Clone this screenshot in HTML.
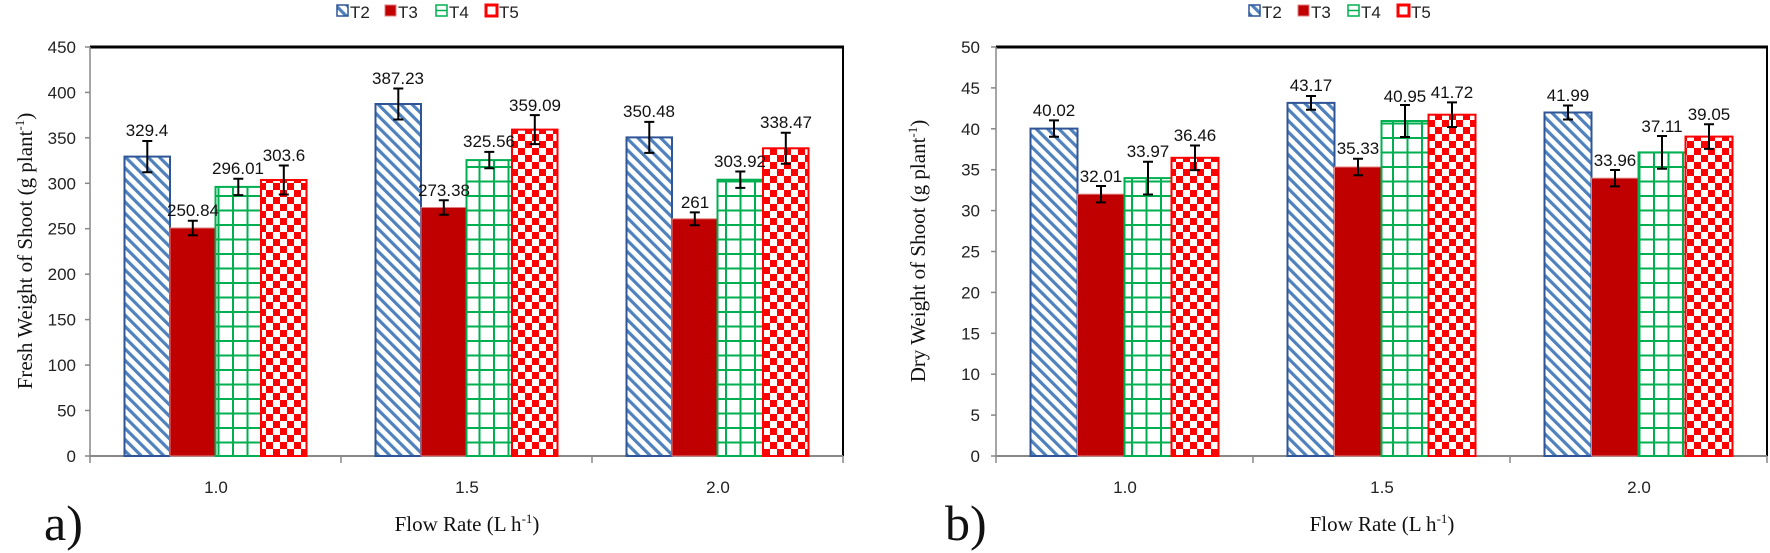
<!DOCTYPE html>
<html><head><meta charset="utf-8"><style>
html,body{margin:0;padding:0;background:#fff;}
svg{display:block;}
.t{font-family:"Liberation Sans",sans-serif;font-size:17px;fill:#222;}
.d{font-family:"Liberation Sans",sans-serif;font-size:17px;fill:#111;text-anchor:middle;}
.s{font-family:"Liberation Serif",serif;fill:#111;}
</style></head><body>
<svg width="1770" height="553" viewBox="0 0 1770 553" xmlns="http://www.w3.org/2000/svg">
<defs>
<pattern id="st" width="8" height="8" patternUnits="userSpaceOnUse" patternTransform="rotate(-45)">
<rect width="8" height="8" fill="#fff"/><rect x="0" y="0" width="3.2" height="8" fill="#4f81bd"/>
</pattern>
<pattern id="gr" width="14.5" height="14.5" patternUnits="userSpaceOnUse" x="0" y="456">
<rect width="14.5" height="14.5" fill="#fff"/><rect x="0" y="0" width="2" height="14.5" fill="#00b050"/><rect x="0" y="0" width="14.5" height="2" fill="#00b050"/>
</pattern>
<pattern id="ck" width="14" height="14" patternUnits="userSpaceOnUse" x="0" y="456">
<rect width="14" height="14" fill="#fff"/><rect x="0" y="0" width="7" height="7" fill="#ff0000"/><rect x="7" y="7" width="7" height="7" fill="#ff0000"/>
</pattern>
</defs>

<!-- ===== Chart a ===== -->
<g>
<line x1="90" y1="47" x2="844" y2="47" stroke="#000" stroke-width="3"/>
<line x1="843" y1="47" x2="843" y2="456" stroke="#000" stroke-width="2"/>
<line x1="90" y1="47" x2="90" y2="456" stroke="#888" stroke-width="1.5"/>
<line x1="90" y1="456" x2="843" y2="456" stroke="#888" stroke-width="2"/>
<g stroke="#888" stroke-width="1.5">
<line x1="90" y1="456" x2="90" y2="463"/><line x1="341" y1="456" x2="341" y2="463"/><line x1="592" y1="456" x2="592" y2="463"/><line x1="843" y1="456" x2="843" y2="463"/>
<line x1="85" y1="456" x2="90" y2="456"/><line x1="85" y1="410.5" x2="90" y2="410.5"/><line x1="85" y1="365.1" x2="90" y2="365.1"/><line x1="85" y1="319.6" x2="90" y2="319.6"/><line x1="85" y1="274.2" x2="90" y2="274.2"/><line x1="85" y1="228.7" x2="90" y2="228.7"/><line x1="85" y1="183.3" x2="90" y2="183.3"/><line x1="85" y1="137.8" x2="90" y2="137.8"/><line x1="85" y1="92.4" x2="90" y2="92.4"/><line x1="85" y1="47" x2="90" y2="47"/>
</g>
<g class="t" text-anchor="end">
<text x="76" y="462">0</text><text x="76" y="416.5">50</text><text x="76" y="371">100</text><text x="76" y="325.6">150</text><text x="76" y="280.2">200</text><text x="76" y="234.7">250</text><text x="76" y="189.3">300</text><text x="76" y="143.8">350</text><text x="76" y="98.4">400</text><text x="76" y="53">450</text>
</g>
<g class="t" text-anchor="middle">
<text x="216" y="493">1.0</text><text x="467" y="493">1.5</text><text x="718" y="493">2.0</text>
</g>
<rect x="124.5" y="156.6" width="45.5" height="299.4" fill="url(#st)" stroke="#2f5597" stroke-width="2"/>
<rect x="170" y="228" width="45.5" height="228" fill="#c00000" stroke="#e08080" stroke-width="1"/>
<rect x="215.5" y="186.9" width="45.5" height="269.1" fill="url(#gr)" stroke="#00b050" stroke-width="2"/>
<rect x="261" y="180" width="45.5" height="276" fill="url(#ck)" stroke="#ff0000" stroke-width="2"/>
<rect x="375.5" y="104" width="45.5" height="352" fill="url(#st)" stroke="#2f5597" stroke-width="2"/>
<rect x="421" y="207.5" width="45.5" height="248.5" fill="#c00000" stroke="#e08080" stroke-width="1"/>
<rect x="466.5" y="160.1" width="45.5" height="295.9" fill="url(#gr)" stroke="#00b050" stroke-width="2"/>
<rect x="512" y="129.6" width="45.5" height="326.4" fill="url(#ck)" stroke="#ff0000" stroke-width="2"/>
<rect x="626.5" y="137.4" width="45.5" height="318.6" fill="url(#st)" stroke="#2f5597" stroke-width="2"/>
<rect x="672" y="218.8" width="45.5" height="237.2" fill="#c00000" stroke="#e08080" stroke-width="1"/>
<rect x="717.5" y="179.7" width="45.5" height="276.3" fill="url(#gr)" stroke="#00b050" stroke-width="2"/>
<rect x="763" y="148.3" width="45.5" height="307.7" fill="url(#ck)" stroke="#ff0000" stroke-width="2"/>
<g stroke="#000" stroke-width="2">
<path d="M147.3 141v31.2M142.3 141h10M142.3 172.2h10"/>
<path d="M192.8 220.7v14.6M187.8 220.7h10M187.8 235.3h10"/>
<path d="M238.3 178.7v16.4M233.3 178.7h10M233.3 195.1h10"/>
<path d="M283.8 165.5v29M278.8 165.5h10M278.8 194.5h10"/>
<path d="M398.3 88.5v31M393.3 88.5h10M393.3 119.5h10"/>
<path d="M443.8 200.2v14.6M438.8 200.2h10M438.8 214.8h10"/>
<path d="M489.3 151.9v16.4M484.3 151.9h10M484.3 168.3h10"/>
<path d="M534.8 115.1v29M529.8 115.1h10M529.8 144.1h10"/>
<path d="M649.3 121.9v31M644.3 121.9h10M644.3 152.9h10"/>
<path d="M694.8 212.4v12.8M689.8 212.4h10M689.8 225.2h10"/>
<path d="M740.3 171.5v16.4M735.3 171.5h10M735.3 187.9h10"/>
<path d="M785.8 132.8v31M780.8 132.8h10M780.8 163.8h10"/>
</g>
<g class="d">
<text x="147" y="136">329.4</text><text x="193" y="216">250.84</text><text x="238" y="174">296.01</text><text x="284" y="161">303.6</text>
<text x="398" y="84">387.23</text><text x="444" y="196">273.38</text><text x="489" y="147">325.56</text><text x="535" y="111">359.09</text>
<text x="649" y="117">350.48</text><text x="695" y="208">261</text><text x="740" y="167">303.92</text><text x="786" y="128">338.47</text>
</g>
<text class="s" font-size="21" transform="translate(32,251) rotate(-90)" text-anchor="middle">Fresh Weight of Shoot (g plant<tspan font-size="13" dy="-8">-1</tspan><tspan dy="8">)</tspan></text>
<text class="s" font-size="21" x="467" y="531" text-anchor="middle">Flow Rate (L h<tspan font-size="13" dy="-8">-1</tspan><tspan dy="8">)</tspan></text>
<text class="s" font-size="50" x="44" y="540">a)</text>
<rect x="337" y="5" width="11" height="11" fill="url(#st)" stroke="#2f5597" stroke-width="1.5"/><text class="t" x="350" y="18">T2</text>
<rect x="385" y="5" width="11" height="11" fill="#c00000" stroke="#e08080"/><text class="t" x="398" y="18">T3</text>
<rect x="436" y="5" width="11" height="11" fill="#fff" stroke="#00b050" stroke-width="1.5"/><line x1="436" y1="10.5" x2="447" y2="10.5" stroke="#00b050" stroke-width="1.5"/><text class="t" x="449" y="18">T4</text>
<rect x="486" y="5" width="11" height="11" fill="#fff" stroke="#ff0000" stroke-width="3"/><text class="t" x="499" y="18">T5</text>
</g>

<!-- ===== Chart b ===== -->
<g>
<line x1="996" y1="47" x2="1768" y2="47" stroke="#000" stroke-width="3"/>
<line x1="1767" y1="47" x2="1767" y2="456" stroke="#000" stroke-width="2"/>
<line x1="996" y1="47" x2="996" y2="456" stroke="#888" stroke-width="1.5"/>
<line x1="996" y1="456" x2="1767" y2="456" stroke="#888" stroke-width="2"/>
<g stroke="#888" stroke-width="1.5">
<line x1="996" y1="456" x2="996" y2="463"/><line x1="1253" y1="456" x2="1253" y2="463"/><line x1="1510" y1="456" x2="1510" y2="463"/><line x1="1767" y1="456" x2="1767" y2="463"/>
<line x1="991" y1="456" x2="996" y2="456"/><line x1="991" y1="415.1" x2="996" y2="415.1"/><line x1="991" y1="374.2" x2="996" y2="374.2"/><line x1="991" y1="333.3" x2="996" y2="333.3"/><line x1="991" y1="292.4" x2="996" y2="292.4"/><line x1="991" y1="251.5" x2="996" y2="251.5"/><line x1="991" y1="210.6" x2="996" y2="210.6"/><line x1="991" y1="169.7" x2="996" y2="169.7"/><line x1="991" y1="128.8" x2="996" y2="128.8"/><line x1="991" y1="87.9" x2="996" y2="87.9"/><line x1="991" y1="47" x2="996" y2="47"/>
</g>
<g class="t" text-anchor="end">
<text x="980" y="462">0</text><text x="980" y="421.1">5</text><text x="980" y="380.2">10</text><text x="980" y="339.3">15</text><text x="980" y="298.4">20</text><text x="980" y="257.5">25</text><text x="980" y="216.6">30</text><text x="980" y="175.7">35</text><text x="980" y="134.8">40</text><text x="980" y="93.9">45</text><text x="980" y="53">50</text>
</g>
<g class="t" text-anchor="middle">
<text x="1125" y="493">1.0</text><text x="1382" y="493">1.5</text><text x="1639" y="493">2.0</text>
</g>
<rect x="1030.5" y="128.6" width="47" height="327.4" fill="url(#st)" stroke="#2f5597" stroke-width="2"/>
<rect x="1077.5" y="194.2" width="47" height="261.8" fill="#c00000" stroke="#e08080" stroke-width="1"/>
<rect x="1124.5" y="178.1" width="47" height="277.9" fill="url(#gr)" stroke="#00b050" stroke-width="2"/>
<rect x="1171.5" y="157.8" width="47" height="298.2" fill="url(#ck)" stroke="#ff0000" stroke-width="2"/>
<rect x="1287.5" y="102.9" width="47" height="353.1" fill="url(#st)" stroke="#2f5597" stroke-width="2"/>
<rect x="1334.5" y="167" width="47" height="289" fill="#c00000" stroke="#e08080" stroke-width="1"/>
<rect x="1381.5" y="121" width="47" height="335" fill="url(#gr)" stroke="#00b050" stroke-width="2"/>
<rect x="1428.5" y="114.7" width="47" height="341.3" fill="url(#ck)" stroke="#ff0000" stroke-width="2"/>
<rect x="1544.5" y="112.5" width="47" height="343.5" fill="url(#st)" stroke="#2f5597" stroke-width="2"/>
<rect x="1591.5" y="178.2" width="47" height="277.8" fill="#c00000" stroke="#e08080" stroke-width="1"/>
<rect x="1638.5" y="152.4" width="47" height="303.6" fill="url(#gr)" stroke="#00b050" stroke-width="2"/>
<rect x="1685.5" y="136.6" width="47" height="319.4" fill="url(#ck)" stroke="#ff0000" stroke-width="2"/>
<g stroke="#000" stroke-width="2">
<path d="M1054 120.4v16.4M1049 120.4h10M1049 136.8h10"/>
<path d="M1101 186v16.4M1096 186h10M1096 202.4h10"/>
<path d="M1148 161.7v32.8M1143 161.7h10M1143 194.5h10"/>
<path d="M1195 145.5v24.6M1190 145.5h10M1190 170.1h10"/>
<path d="M1311 96v13.8M1306 96h10M1306 109.8h10"/>
<path d="M1358 158.8v16.4M1353 158.8h10M1353 175.2h10"/>
<path d="M1405 105v32M1400 105h10M1400 137h10"/>
<path d="M1452 102.4v24.6M1447 102.4h10M1447 127h10"/>
<path d="M1568 105.5v14M1563 105.5h10M1563 119.5h10"/>
<path d="M1615 170v16.4M1610 170h10M1610 186.4h10"/>
<path d="M1662 136v32.8M1657 136h10M1657 168.8h10"/>
<path d="M1709 124.3v24.6M1704 124.3h10M1704 148.9h10"/>
</g>
<g class="d">
<text x="1054" y="116">40.02</text><text x="1101" y="182">32.01</text><text x="1148" y="157">33.97</text><text x="1195" y="141">36.46</text>
<text x="1311" y="91">43.17</text><text x="1358" y="154">35.33</text><text x="1405" y="102">40.95</text><text x="1452" y="98">41.72</text>
<text x="1568" y="101">41.99</text><text x="1615" y="166">33.96</text><text x="1662" y="132">37.11</text><text x="1709" y="120">39.05</text>
</g>
<text class="s" font-size="21" transform="translate(925,251) rotate(-90)" text-anchor="middle">Dry Weight of Shoot (g plant<tspan font-size="13" dy="-8">-1</tspan><tspan dy="8">)</tspan></text>
<text class="s" font-size="21" x="1382" y="531" text-anchor="middle">Flow Rate (L h<tspan font-size="13" dy="-8">-1</tspan><tspan dy="8">)</tspan></text>
<text class="s" font-size="50" x="945" y="540">b)</text>
<rect x="1249" y="5" width="11" height="11" fill="url(#st)" stroke="#2f5597" stroke-width="1.5"/><text class="t" x="1262" y="18">T2</text>
<rect x="1298" y="5" width="11" height="11" fill="#c00000" stroke="#e08080"/><text class="t" x="1311" y="18">T3</text>
<rect x="1348" y="5" width="11" height="11" fill="#fff" stroke="#00b050" stroke-width="1.5"/><line x1="1348" y1="10.5" x2="1359" y2="10.5" stroke="#00b050" stroke-width="1.5"/><text class="t" x="1361" y="18">T4</text>
<rect x="1398" y="5" width="11" height="11" fill="#fff" stroke="#ff0000" stroke-width="3"/><text class="t" x="1411" y="18">T5</text>
</g>
</svg>
</body></html>
